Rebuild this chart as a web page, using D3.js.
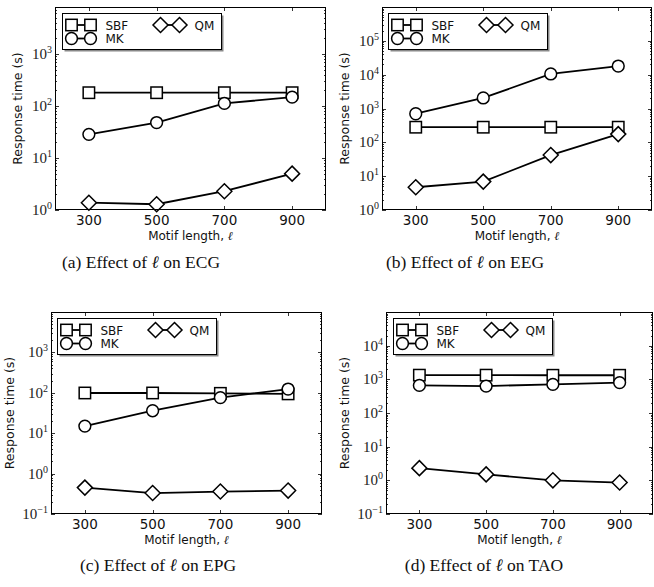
<!DOCTYPE html>
<html><head><meta charset="utf-8">
<script src="https://cdn.jsdelivr.net/npm/d3@7"></script>
<style>body{margin:0;background:#fff}svg{display:block}</style>
</head><body>
<svg id="c" width="654" height="587"></svg>
<script>
// ---- data ----
const motifLengths = [300, 500, 700, 900];
const xTickLabels = ["300", "500", "700", "900"];
const seriesNames = ["SBF", "MK", "QM"];
const ecgSBF = [180, 180, 180, 180];
const ecgMK  = [28.5, 48, 112, 148];
const ecgQM  = [1.38, 1.29, 2.3, 5.0];
const eegSBF = [280, 280, 280, 280];
const eegMK  = [700, 2050, 10500, 18000];
const eegQM  = [4.7, 6.9, 42, 175];
const epgSBF = [99, 99, 97, 94];
const epgMK  = [15, 36, 76, 124];
const epgQM  = [0.45, 0.33, 0.36, 0.38];
const taoSBF = [1330, 1330, 1320, 1320];
const taoMK  = [660, 630, 710, 800];
const taoQM  = [2.3, 1.5, 1.0, 0.86];
const captions = ["(a) Effect of \u2113 on ECG", "(b) Effect of \u2113 on EEG",
                  "(c) Effect of \u2113 on EPG", "(d) Effect of \u2113 on TAO"];
const yDomains = [[1, 8000], [1, 1e6], [0.1, 1e4], [0.1, 1e5]];
const xDomain = [200, 1000];

// ---- layout ----
const panels = [
  {l:55, r:326, t:7, b:210, data:[ecgSBF, ecgMK, ecgQM], yd:yDomains[0], cap:captions[0], capX:141, capY:268, ylabX:18, leg:[62.5, 13.5]},
  {l:382, r:652, t:7, b:210, data:[eegSBF, eegMK, eegQM], yd:yDomains[1], cap:captions[1], capX:465, capY:268, ylabX:345, leg:[388.5, 13.5]},
  {l:51, r:322, t:312, b:514, data:[epgSBF, epgMK, epgQM], yd:yDomains[2], cap:captions[2], capX:158, capY:571, ylabX:10, leg:[57.5, 318.5]},
  {l:386, r:653, t:312, b:514, data:[taoSBF, taoMK, taoQM], yd:yDomains[3], cap:captions[3], capX:484, capY:571, ylabX:345, leg:[393.5, 318.5]}
];

const svg = d3.select("#c");
const SANS = "'DejaVu Sans', sans-serif";
const SERIF = "'Liberation Serif', 'Times New Roman', serif";

function drawMarker(g, kind, x, y) {
  if (kind === 0) {
    g.append("rect").attr("x", x - 5.7).attr("y", y - 5.7).attr("width", 11.4).attr("height", 11.4)
      .attr("fill", "#fff").attr("stroke", "#000").attr("stroke-width", 1.5);
  } else if (kind === 1) {
    g.append("circle").attr("cx", x).attr("cy", y).attr("r", 5.9)
      .attr("fill", "#fff").attr("stroke", "#000").attr("stroke-width", 1.5);
  } else {
    const s = 7.5;
    g.append("path").attr("d", `M${x},${y - s}L${x + s},${y}L${x},${y + s}L${x - s},${y}Z`)
      .attr("fill", "#fff").attr("stroke", "#000").attr("stroke-width", 1.5);
  }
}

panels.forEach(p => {
  const g = svg.append("g");
  const x = d3.scaleLinear().domain(xDomain).range([p.l, p.r]);
  const y = d3.scaleLog().domain(p.yd).range([p.b, p.t]);

  // minor & major y ticks (inside, left and right)
  const e0 = Math.round(Math.log10(p.yd[0]));
  const e1 = Math.ceil(Math.log10(p.yd[1]));
  for (let e = e0; e <= e1; e++) {
    for (let m = 1; m <= 9; m++) {
      const v = m * Math.pow(10, e);
      if (v < p.yd[0] * 0.9999 || v > p.yd[1] * 1.0001) continue;
      const yy = Math.round(y(v)) + 0.5;
      const len = m === 1 ? 4 : 2;
      g.append("line").attr("x1", p.l).attr("x2", p.l + len).attr("y1", yy).attr("y2", yy)
        .attr("stroke", "#000").attr("stroke-width", 0.8);
      g.append("line").attr("x1", p.r).attr("x2", p.r - len).attr("y1", yy).attr("y2", yy)
        .attr("stroke", "#000").attr("stroke-width", 0.8);
      if (m === 1 && y(v) > p.t + 3) {
        const t = g.append("text").attr("x", p.l - 3).attr("y", y(v) + 5)
          .attr("text-anchor", "end").attr("font-family", SERIF).attr("font-size", 15).attr("fill", "#222");
        t.append("tspan").text("10");
        t.append("tspan").attr("font-size", 10).attr("dy", -6).text(e < 0 ? "\u2212" + (-e) : String(e));
      }
    }
  }
  // x ticks (inside, bottom and top) + labels
  motifLengths.forEach((v, i) => {
    const xx = Math.round(x(v)) + 0.5;
    g.append("line").attr("x1", xx).attr("x2", xx).attr("y1", p.b).attr("y2", p.b - 4).attr("stroke", "#000").attr("stroke-width", 0.8);
    g.append("line").attr("x1", xx).attr("x2", xx).attr("y1", p.t).attr("y2", p.t + 4).attr("stroke", "#000").attr("stroke-width", 0.8);
    g.append("text").attr("x", x(v)).attr("y", p.b + 15).attr("text-anchor", "middle")
      .attr("font-family", SANS).attr("font-size", 13.5).attr("fill", "#111").text(xTickLabels[i]);
  });

  // series
  const line = d3.line().x((d, i) => x(motifLengths[i])).y(d => y(d));
  p.data.forEach((arr, k) => {
    g.append("path").attr("d", line(arr)).attr("fill", "none").attr("stroke", "#000").attr("stroke-width", 1.8);
    arr.forEach((d, i) => drawMarker(g, k, x(motifLengths[i]), y(d)));
  });

  // frame
  g.append("rect").attr("x", p.l + 0.5).attr("y", p.t + 0.5).attr("width", p.r - p.l - 1).attr("height", p.b - p.t - 1)
    .attr("fill", "none").attr("stroke", "#000").attr("stroke-width", 1);

  // legend
  const [lx, ly] = p.leg;
  const lw = 159, lh = 36;
  g.append("rect").attr("x", lx + 2).attr("y", ly + 2).attr("width", lw).attr("height", lh).attr("fill", "#888");
  g.append("rect").attr("x", lx).attr("y", ly).attr("width", lw).attr("height", lh)
    .attr("fill", "#fff").attr("stroke", "#000").attr("stroke-width", 1);
  const entries = [[9, 11.5, 0], [9, 25, 1], [98, 11.5, 2]];
  entries.forEach(([ex, ey, k]) => {
    g.append("line").attr("x1", lx + ex).attr("x2", lx + ex + 19).attr("y1", ly + ey).attr("y2", ly + ey)
      .attr("stroke", "#000").attr("stroke-width", 1.8);
    drawMarker(g, k, lx + ex, ly + ey);
    drawMarker(g, k, lx + ex + 19, ly + ey);
    g.append("text").attr("x", lx + ex + 34).attr("y", ly + ey + 4.5).attr("font-family", SANS)
      .attr("font-size", 12).attr("fill", "#111").text(seriesNames[k]);
  });

  // axis labels
  const cx = (p.l + p.r) / 2;
  const xl = g.append("text").attr("x", cx).attr("y", p.b + 30).attr("text-anchor", "middle")
    .attr("font-family", SANS).attr("font-size", 12).attr("fill", "#111");
  xl.append("tspan").text("Motif length, ");
  xl.append("tspan").attr("font-family", SERIF).attr("font-style", "italic").text("\u2113");
  g.append("text").attr("transform", `translate(${p.ylabX + 4},${(p.t + p.b) / 2}) rotate(-90)`)
    .attr("text-anchor", "middle").attr("font-family", SANS).attr("font-size", 12.5).attr("fill", "#111")
    .text("Response time (s)");

  // caption
  const cap = svg.append("text").attr("x", p.capX).attr("y", p.capY).attr("text-anchor", "middle")
    .attr("font-family", SERIF).attr("font-size", 17.5).attr("fill", "#111");
  const parts = p.cap.split("\u2113");
  cap.append("tspan").text(parts[0]);
  cap.append("tspan").attr("font-style", "italic").text("\u2113");
  cap.append("tspan").text(parts[1]);
});
</script>
</body></html>
